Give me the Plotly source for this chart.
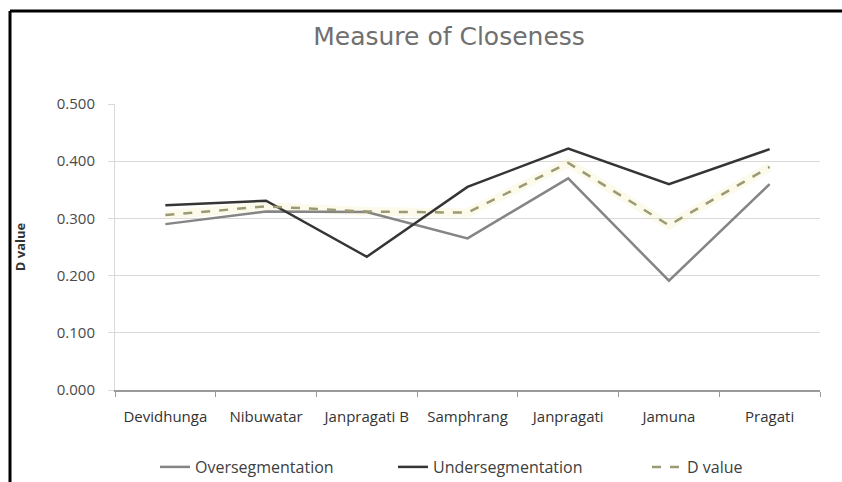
import plotly.graph_objects as go

categories = ["Devidhunga", "Nibuwatar", "Janpragati B", "Samphrang", "Janpragati", "Jamuna", "Pragati"]
over_seg = [0.290, 0.312, 0.311, 0.265, 0.370, 0.191, 0.360]
under_seg = [0.323, 0.331, 0.233, 0.355, 0.422, 0.360, 0.421]
d_value = [0.306, 0.321, 0.312, 0.310, 0.397, 0.288, 0.390]
y_ticks = [0.0, 0.1, 0.2, 0.3, 0.4, 0.5]
y_ticklabels = ["0.000", "0.100", "0.200", "0.300", "0.400", "0.500"]

font_family = "'Open Sans', sans-serif"

# plot area in pixels: x 115..820, y 104..390
L, R, T, B = 115, 22, 104, 92
W, H = 842, 482
PW, PH = W - L - R, H - T - B


def px_x(p):
    return (p - L) / PW


def px_y(p):
    return (H - B - p) / PH


fig = go.Figure()
# faint glow under the dashed line
fig.add_trace(go.Scatter(x=categories, y=d_value, mode="lines", showlegend=False,
                         hoverinfo="skip",
                         line=dict(color="rgba(245,240,190,0.30)", width=9)))
fig.add_trace(go.Scatter(x=categories, y=over_seg, mode="lines", name="Oversegmentation",
                         legend="legend", line=dict(color="#858585", width=2.5)))
fig.add_trace(go.Scatter(x=categories, y=under_seg, mode="lines", name="Undersegmentation",
                         legend="legend2", line=dict(color="#353535", width=2.5)))
fig.add_trace(go.Scatter(x=categories, y=d_value, mode="lines", name="D value",
                         legend="legend3", line=dict(color="#9c9a74", width=2.5, dash="dash")))

legend_common = dict(orientation="h", xref="container", yref="container", xanchor="left",
                     yanchor="middle", y=1 - 467 / H, bgcolor="rgba(0,0,0,0)",
                     font=dict(size=16, color="#404040"))

fig.update_layout(
    width=W, height=H,
    margin=dict(l=L, r=R, t=T, b=B),
    paper_bgcolor="white", plot_bgcolor="white",
    font=dict(family=font_family, color="#404040", size=14),
    title=dict(text="Measure of Closeness", x=449 / W, xanchor="center", y=1 - 36 / H, yanchor="middle",
               font=dict(size=25, color="#707070", family="'DejaVu Sans', sans-serif")),
    xaxis=dict(type="category", range=[-0.5, 6.5], showgrid=False, automargin=False,
               showline=True, linecolor="#9a9a9a", linewidth=1.5,
               ticks="outside", tickson="boundaries", ticklen=5, tickcolor="#9a9a9a",
               tickfont=dict(size=15, color="#333333"), ticklabelstandoff=12),
    yaxis=dict(range=[0, 0.5], tickvals=y_ticks, ticktext=y_ticklabels, automargin=False,
               showgrid=True, gridcolor="#d9d9d9", gridwidth=1.2,
               showline=True, linecolor="#d9d9d9", linewidth=1,
               ticks="outside", ticklen=6, tickcolor="#d9d9d9",
               tickfont=dict(size=15, color="#4a4a4a"), ticklabelstandoff=10,
               zeroline=False,
               title=dict(text="<b>D value</b>", font=dict(size=13, color="#333333"), standoff=28)),
    legend=dict(legend_common, x=155 / W),
    legend2=dict(legend_common, x=393 / W),
    legend3=dict(legend_common, x=647 / W),
    showlegend=True,
)

# outer frame (left and top edges visible)
fig.add_shape(type="line", xref="paper", yref="paper",
              x0=px_x(10), x1=px_x(10), y0=px_y(482), y1=px_y(11),
              line=dict(color="black", width=3))
fig.add_shape(type="line", xref="paper", yref="paper",
              x0=px_x(10), x1=px_x(842), y0=px_y(11), y1=px_y(11),
              line=dict(color="black", width=3))

fig.write_html("out.html")
